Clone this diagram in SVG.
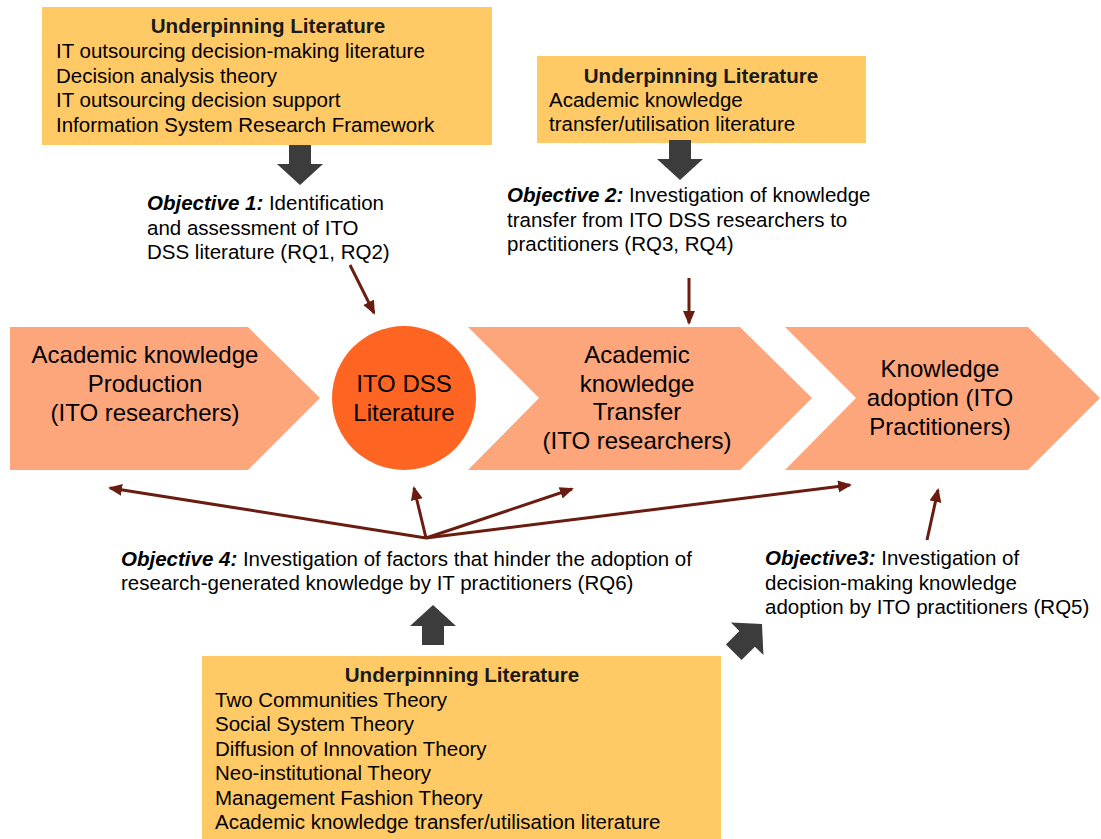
<svg xmlns="http://www.w3.org/2000/svg" width="1101" height="839" viewBox="0 0 1101 839">
<style>
text{font-family:"Liberation Sans",Arial,sans-serif;fill:#000}
.box{fill:#FFC966}
.chev{fill:#FDA57B}
.lit{font-size:20.5px}
.ttl{font-size:20.6px;font-weight:bold;text-anchor:middle;fill:#1a1a1a}
.obj{font-size:20.5px}
.bi{font-weight:bold;font-style:italic}
.big{font-size:24px;text-anchor:middle}
.dark{fill:#3C3C3C}
.thin{stroke:#6B1C10;stroke-width:3;fill:none;marker-end:url(#ah)}
</style>
<defs>
<marker id="ah" markerUnits="userSpaceOnUse" markerWidth="16" markerHeight="14" refX="12" refY="6" orient="auto">
<path d="M0,0 L14,6 L0,12 Z" fill="#6B1C10"/>
</marker>
<path id="bigArrow" d="M0,0 L23,21 L11,21 L11,40 L-11,40 L-11,21 L-23,21 Z"/>
</defs>
<rect width="1101" height="839" fill="#fff"/>

<g id="lit1">
<rect class="box" x="42" y="7" width="450" height="138"/>
<text class="ttl" x="268" y="33">Underpinning Literature</text>
<text class="lit" x="56" y="58">IT outsourcing decision-making literature</text>
<text class="lit" x="56" y="83">Decision analysis theory</text>
<text class="lit" x="56" y="107">IT outsourcing decision support</text>
<text class="lit" x="56" y="132">Information System Research Framework</text>
</g>

<g id="lit2">
<rect class="box" x="537" y="56" width="329" height="87"/>
<text class="ttl" x="701" y="83">Underpinning Literature</text>
<text class="lit" x="549" y="107">Academic knowledge</text>
<text class="lit" x="549" y="131">transfer/utilisation literature</text>
</g>

<g id="lit3">
<rect class="box" x="202" y="656" width="519" height="183"/>
<text class="ttl" x="462" y="682">Underpinning Literature</text>
<text class="lit" x="215" y="707">Two Communities Theory</text>
<text class="lit" x="215" y="731">Social System Theory</text>
<text class="lit" x="215" y="756">Diffusion of Innovation Theory</text>
<text class="lit" x="215" y="780">Neo-institutional Theory</text>
<text class="lit" x="215" y="805">Management Fashion Theory</text>
<text class="lit" x="215" y="829">Academic knowledge transfer/utilisation literature</text>
</g>

<g id="obj1">
<text class="obj" x="147" y="210"><tspan class="bi">Objective 1:</tspan> Identification</text>
<text class="obj" x="147" y="235">and assessment of ITO</text>
<text class="obj" x="147" y="259">DSS literature (RQ1, RQ2)</text>
</g>
<g id="obj2">
<text class="obj" x="507" y="202"><tspan class="bi">Objective 2:</tspan> Investigation of knowledge</text>
<text class="obj" x="507" y="227">transfer from ITO DSS researchers to</text>
<text class="obj" x="507" y="251">practitioners (RQ3, RQ4)</text>
</g>
<g id="obj3">
<text class="obj" x="765" y="565"><tspan class="bi">Objective3:</tspan> Investigation of</text>
<text class="obj" x="765" y="590">decision-making knowledge</text>
<text class="obj" x="765" y="614">adoption by ITO practitioners (RQ5)</text>
</g>
<g id="obj4">
<text class="obj" x="121" y="566"><tspan class="bi">Objective 4:</tspan> Investigation of factors that hinder the adoption of</text>
<text class="obj" x="121" y="590">research-generated knowledge by IT practitioners (RQ6)</text>
</g>

<g id="production">
<path class="chev" d="M10,327 L248,327 L320,398 L248,470 L10,470 Z"/>
<text class="big" x="145" y="363">Academic knowledge</text>
<text class="big" x="145" y="392">Production</text>
<text class="big" x="145" y="421">(ITO researchers)</text>
</g>
<g id="literature">
<circle cx="404" cy="398" r="72" fill="#FF6522"/>
<text class="big" x="404" y="392">ITO DSS</text>
<text class="big" x="404" y="421">Literature</text>
</g>
<g id="transfer">
<path class="chev" d="M468,327 L740,327 L812,398 L740,470 L468,470 L539,398 Z"/>
<text class="big" x="637" y="363">Academic</text>
<text class="big" x="637" y="392">knowledge</text>
<text class="big" x="637" y="420">Transfer</text>
<text class="big" x="637" y="449">(ITO researchers)</text>
</g>
<g id="adoption">
<path class="chev" d="M785,327 L1028,327 L1100,398 L1028,470 L785,470 L856,398 Z"/>
<text class="big" x="940" y="377">Knowledge</text>
<text class="big" x="940" y="406">adoption (ITO</text>
<text class="big" x="940" y="435">Practitioners)</text>
</g>

<g id="connectors">
<use href="#bigArrow" class="dark" transform="translate(300,185) rotate(180)"/>
<use href="#bigArrow" class="dark" transform="translate(680,180) rotate(180)"/>
<use href="#bigArrow" class="dark" transform="translate(433,605)"/>
<use href="#bigArrow" class="dark" transform="translate(762,624) rotate(45)"/>
<line class="thin" x1="350" y1="265" x2="374" y2="313"/>
<line class="thin" x1="689" y1="278" x2="689" y2="323"/>
<line class="thin" x1="426" y1="538" x2="110" y2="488"/>
<line class="thin" x1="426" y1="538" x2="414" y2="488"/>
<line class="thin" x1="426" y1="538" x2="572" y2="489"/>
<line class="thin" x1="426" y1="538" x2="850" y2="485"/>
<line class="thin" x1="927" y1="540" x2="938" y2="490"/>
</g>
</svg>
